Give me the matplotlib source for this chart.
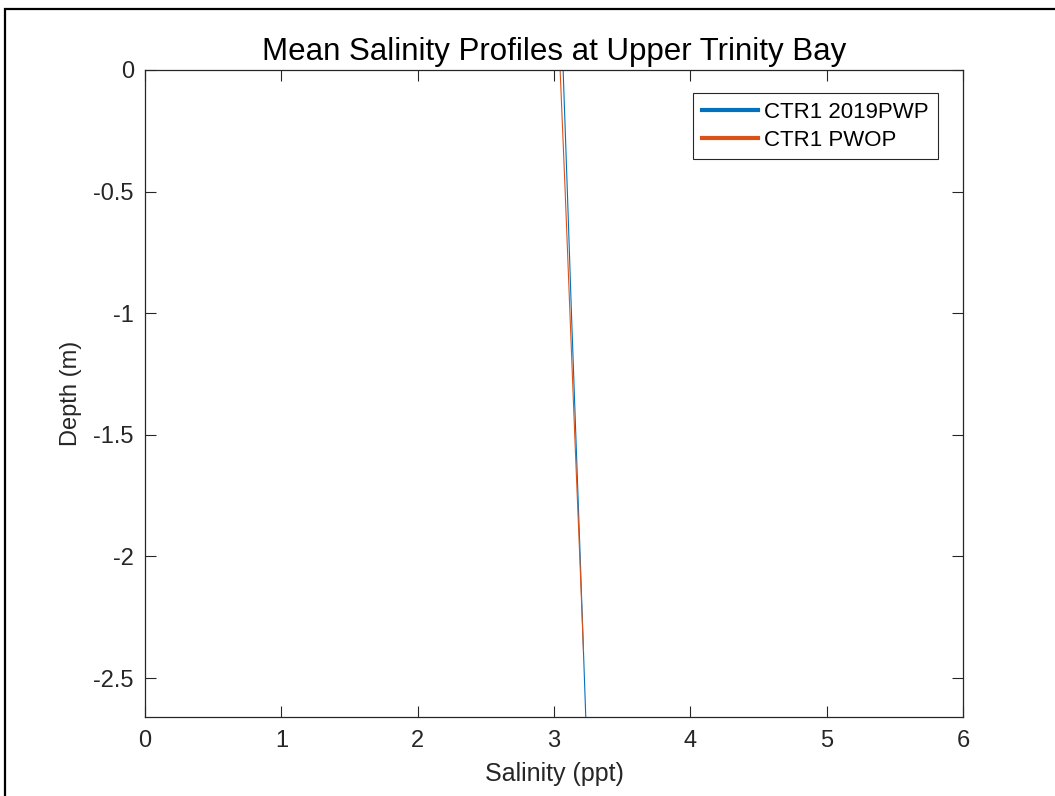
import matplotlib
matplotlib.use("Agg")
import matplotlib.pyplot as plt
from matplotlib.patches import Rectangle
from matplotlib.lines import Line2D

# Data
depth_pwp = [0.0, -0.5, -1.0, -1.5, -2.0, -2.5, -2.66]
sal_pwp = [3.067, 3.098, 3.128, 3.160, 3.192, 3.223, 3.233]
depth_pwop = [0.0, -0.5, -1.0, -1.5, -2.0, -2.39]
sal_pwop = [3.045, 3.082, 3.117, 3.152, 3.189, 3.216]
series_labels = ["CTR1 2019PWP", "CTR1 PWOP"]
xticks = [0, 1, 2, 3, 4, 5, 6]
yticks = [0, -0.5, -1, -1.5, -2, -2.5]
ytick_labels = ["0", "-0.5", "-1", "-1.5", "-2", "-2.5"]

plt.rcParams['font.family'] = ['Liberation Sans', 'DejaVu Sans']
W, H = 1055, 796
fig = plt.figure(figsize=(W / 100, H / 100), dpi=100)
ax = fig.add_axes([145 / W, 1 - 717 / H, (963 - 145) / W, (717 - 70) / H])

blue = '#0072BD'
orange = '#D95319'
dark = '#262626'

ax.plot(sal_pwp, depth_pwp, color=blue, lw=0.8)
ax.plot(sal_pwop, depth_pwop, color=orange, lw=0.8)

ax.set_xlim(0, 6)
ax.set_ylim(-2.66, 0)
ax.set_xticks(xticks)
ax.set_xticklabels([str(v) for v in xticks])
ax.set_yticks(yticks)
ax.set_yticklabels(ytick_labels)
ax.tick_params(direction='in', length=8, width=0.8, colors=dark, labelsize=17,
               top=True, right=True)
ax.tick_params(axis='x', pad=9.5)
ax.tick_params(axis='y', pad=8)
for s in ax.spines.values():
    s.set_color(dark)
    s.set_linewidth(0.9)

ax.set_xlabel('Salinity (ppt)', fontsize=18, color=dark, labelpad=7)
ax.set_ylabel('Depth (m)', fontsize=17, color=dark, labelpad=8)
ax.set_title('Mean Salinity Profiles at Upper Trinity Bay', fontsize=22.5, color='black', pad=7)

handles = [Line2D([], [], color=blue, lw=3), Line2D([], [], color=orange, lw=3)]
leg = ax.legend(handles, series_labels, loc='upper right',
                bbox_to_anchor=(938 / W, 1 - 93 / H), bbox_transform=fig.transFigure,
                fontsize=16, frameon=True, fancybox=False, framealpha=1,
                edgecolor=dark, handlelength=2.5, handletextpad=0.3,
                borderpad=0.4, labelspacing=0.3, borderaxespad=0)
leg.get_frame().set_linewidth(0.8)

# Outer frame of the screenshot
fig.add_artist(Rectangle((5 / W, -0.1), 1.2, (1 - 9 / H) + 0.1, transform=fig.transFigure,
                         fill=False, edgecolor='black', lw=1.6, clip_on=False))

fig.savefig('out.png', dpi=100)
